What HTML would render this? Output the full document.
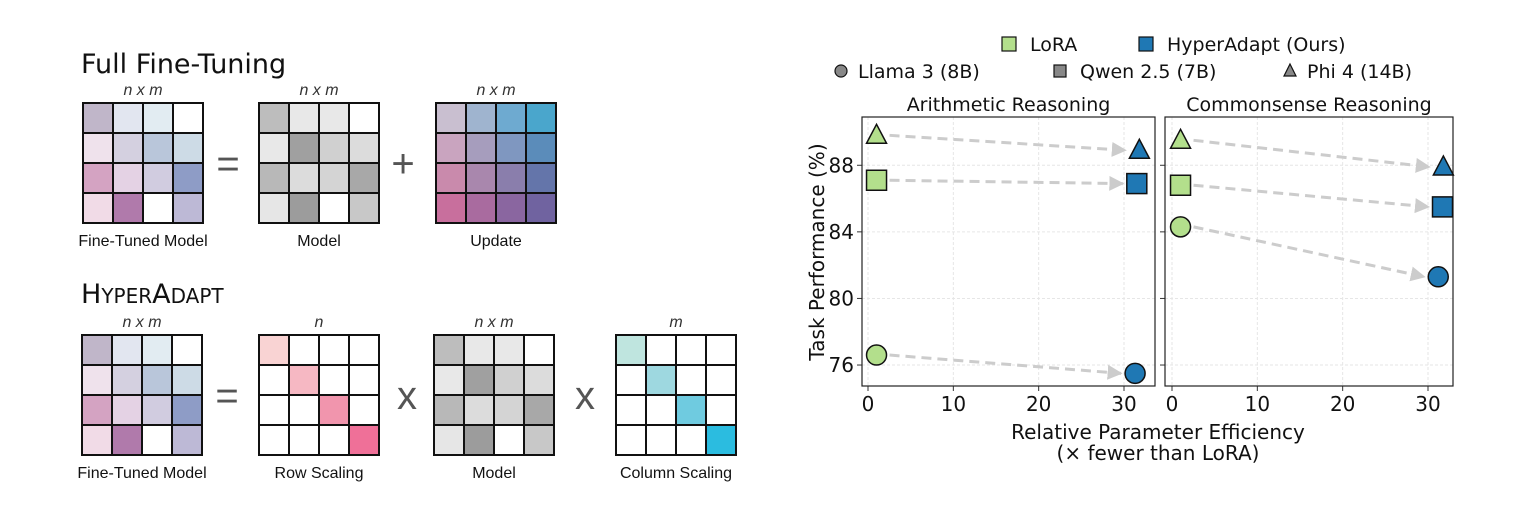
<!DOCTYPE html>
<html><head><meta charset="utf-8"><style>
body{margin:0;background:#fff;width:1517px;height:512px;overflow:hidden;font-family:"Liberation Sans",sans-serif}
</style></head><body>
<svg id="root" width="1517" height="512">
<g id="diagram"></g>
<g id="chart" font-family="'DejaVu Sans',sans-serif"></g>
</svg>
<script>
const NS='http://www.w3.org/2000/svg';
function mk(tag,attrs,parent,text){const e=document.createElementNS(NS,tag);for(const k in attrs)e.setAttribute(k,attrs[k]);if(text!==undefined)e.textContent=text;parent.appendChild(e);return e;}
const D=document.getElementById('diagram');
const ft=[['#c0b6c9','#e2e6f0','#e2ecf2','#fff'],['#efe2ec','#d4d0e0','#b9c6da','#cddbe6'],['#d4a3c2','#e4d2e4','#d1cce0','#8e9cc6'],['#f1dbe7','#b07aab','#fff','#bdb9d6']];
const gm=[['#bdbdbd','#e8e8e8','#e8e8e8','#fff'],['#e8e8e8','#a0a0a0','#d0d0d0','#dcdcdc'],['#b8b8b8','#dcdcdc','#d4d4d4','#a8a8a8'],['#e6e6e6','#9c9c9c','#fff','#c8c8c8']];
const up=[['#c9bfd0','#9fb4cf','#6eaad0','#4aa6cc'],['#c9a4bf','#a69dbd','#7f97c0','#5b8cba'],['#c98aac','#a987ad','#8a7eac','#6475aa'],['#c86f9d','#a96b9f','#8a66a0','#7063a0']];
function diag(c){const m=[];for(let i=0;i<4;i++){m.push([]);for(let j=0;j<4;j++)m[i].push(i==j?c[i]:'#fff');}return m;}
const rs=diag(['#f9d3d3','#f6b8c3','#f195ad','#ef7098']);
const cs=diag(['#bfe5df','#9ed8e0','#6fcbe0','#2bbce0']);
function matrix(x,y,cols,name,topLbl,bottom){
  const g=mk('g',{},D);
  
  
  for(let i=0;i<4;i++)for(let j=0;j<4;j++)mk('rect',{x:x+j*30,y:y+i*30,width:30,height:30,fill:cols[i][j],stroke:'#111','stroke-width':2},g);
  mk('text',{x:x+60,y:y-8,'text-anchor':'middle','font-size':16,'font-style':'italic',fill:'#333'},g,topLbl);
  mk('text',{x:x+60,y:y+143,'text-anchor':'middle','font-size':16,fill:'#111'},g,bottom);
}
function op(x,y,t){const e=mk('text',{x:x,y:y,'text-anchor':'middle','font-size':40,fill:'#555'},D,t);}
let t=mk('text',{x:81,y:73,'font-size':27,fill:'#111','font-family':"'DejaVu Sans',sans-serif"},D,'Full Fine-Tuning');

matrix(83,103,ft,'fine-tuned-matrix','n x m','Fine-Tuned Model');
op(228,177,'=');
matrix(259,103,gm,'model-matrix','n x m','Model');
matrix(436,103,up,'update-matrix','n x m','Update');
op(403,177,'+');
t=mk('text',{x:81,y:303,'font-size':27,fill:'#111','font-family':"'DejaVu Sans',sans-serif"},D);
t.innerHTML='H<tspan font-size="20">YPER</tspan>A<tspan font-size="20">DAPT</tspan>';

matrix(82,335,ft,'fine-tuned-matrix-2','n x m','Fine-Tuned Model');
op(227,409,'=');
matrix(259,335,rs,'row-scaling-matrix','n','Row Scaling');
op(407,409,'x');
matrix(434,335,gm,'model-matrix-2','n x m','Model');
op(585,409,'x');
matrix(616,335,cs,'column-scaling-matrix','m','Column Scaling');

// ---- chart data ----
const xTicks=[0,10,20,30];
const yTicks=[76,80,84,88];
const models=['Llama 3 (8B)','Qwen 2.5 (7B)','Phi 4 (14B)'];
const shapes=['circle','square','triangle'];
const panels=['Arithmetic Reasoning','Commonsense Reasoning'];
const loraX=[1,1,1];
const arithLora=[76.6,87.1,89.8];
const arithHyperX=[31.3,31.5,31.8];
const arithHyper=[75.5,86.9,88.9];
const commLora=[84.3,86.8,89.5];
const commHyperX=[31.2,31.7,31.8];
const commHyper=[81.3,85.5,87.9];
const green='#b3df8c', blue='#1f78b4';

const C=document.getElementById('chart');
const plotTop=117,plotBot=386,yMin=74.74,yMax=90.9;
const panelBox=[[862,1155],[1165,1453]];
const x0=[868,1172];
function sx(p,v){return x0[p]+v*(256/30);}
function sy(v){return plotBot-(v-yMin)/(yMax-yMin)*(plotBot-plotTop);}
const defs=mk('defs',{},C);
const mkr=mk('marker',{id:'ah',viewBox:'0 0 10 10',refX:9,refY:5,markerWidth:5,markerHeight:5,orient:'auto',markerUnits:'strokeWidth'},defs);
mk('path',{d:'M0,0L10,5L0,10z',fill:'#ccc'},mkr);
function marker(g,shape,cx,cy,fill){
  let e;
  if(shape=='circle')e=mk('circle',{cx:cx,cy:cy,r:10},g);
  else if(shape=='square')e=mk('rect',{x:cx-10,y:cy-10,width:20,height:20},g);
  else e=mk('polygon',{points:`${cx},${cy-11} ${cx+10},${cy+8} ${cx-10},${cy+8}`},g);
  e.setAttribute('fill',fill);e.setAttribute('stroke','#111');e.setAttribute('stroke-width',1.5);return e;
}
const sets=[[arithLora,arithHyperX,arithHyper],[commLora,commHyperX,commHyper]];
for(let p=0;p<2;p++){
  const g=mk('g',{},C);
  
  
  const [L,R]=panelBox[p];
  xTicks.forEach(v=>{mk('line',{x1:sx(p,v),x2:sx(p,v),y1:plotTop,y2:plotBot,stroke:'#e6e6e6','stroke-dasharray':'3,2'},g);
    mk('line',{x1:sx(p,v),x2:sx(p,v),y1:plotBot,y2:plotBot+5,stroke:'#333'},g);
    const tl=mk('text',{x:sx(p,v),y:plotBot+25,'text-anchor':'middle','font-size':20,fill:'#111'},g,v);
    });
  yTicks.forEach(v=>{mk('line',{x1:L,x2:R,y1:sy(v),y2:sy(v),stroke:'#e6e6e6','stroke-dasharray':'3,2'},g);
    mk('line',{x1:L-5,x2:L,y1:sy(v),y2:sy(v),stroke:'#333'},g);
    if(p==0){const tl=mk('text',{x:L-8,y:sy(v)+7,'text-anchor':'end','font-size':20,fill:'#111'},g,v);
      }});
  mk('rect',{x:L,y:plotTop,width:R-L,height:plotBot-plotTop,fill:'none',stroke:'#222','stroke-width':1.2},g);
  const tt=mk('text',{x:(L+R)/2,y:111,'text-anchor':'middle','font-size':19,fill:'#111'},g,panels[p]);
  
  const [lo,hx,hv]=sets[p];
  for(let i=0;i<3;i++){
    const xa=sx(p,loraX[i])+13,ya=sy(lo[i]),xb=sx(p,hx[i])-14,yb=sy(hv[i]);
    const ar=mk('line',{x1:xa,y1:ya,x2:xb,y2:yb,stroke:'#ccc','stroke-width':3,'stroke-dasharray':'10,6','marker-end':'url(#ah)'},g);
    
    const m1=marker(g,shapes[i],sx(p,loraX[i]),sy(lo[i]),green);
    
    const m2=marker(g,shapes[i],sx(p,hx[i]),sy(hv[i]),blue);
    
  }
}
let yl=mk('text',{x:0,y:0,transform:'translate(824,252) rotate(-90)','text-anchor':'middle','font-size':20,fill:'#111'},C,'Task Performance (%)');

let xl=mk('text',{x:1158,y:439,'text-anchor':'middle','font-size':20,fill:'#111'},C,'Relative Parameter Efficiency');

let xl2=mk('text',{x:1158,y:460,'text-anchor':'middle','font-size':20,fill:'#111'},C,'(× fewer than LoRA)');

// legend
const lg=mk('g',{},C);

function entry(shape,cx,cy,fill,label,tx,s){
  const g=mk('g',{},lg);
  
  if(shape=='circle')mk('circle',{cx:cx,cy:cy,r:s,fill:fill,stroke:'#111','stroke-width':1.2},g);
  else if(shape=='square')mk('rect',{x:cx-s,y:cy-s,width:2*s,height:2*s,fill:fill,stroke:'#111','stroke-width':1.2},g);
  else mk('polygon',{points:`${cx},${cy-s-1} ${cx+s},${cy+s-1} ${cx-s},${cy+s-1}`,fill:fill,stroke:'#111','stroke-width':1.2},g);
  mk('text',{x:tx,y:cy+7,'font-size':19,fill:'#111'},g,label);
}
entry('square',1009,44,green,'LoRA',1030,7);
entry('square',1146,44,blue,'HyperAdapt (Ours)',1167,7);
entry('circle',841,71,'#888',models[0],858,6);
entry('square',1060,71,'#888',models[1],1080,6);
entry('triangle',1290,71,'#888',models[2],1307,6);
</script>
</body></html>
